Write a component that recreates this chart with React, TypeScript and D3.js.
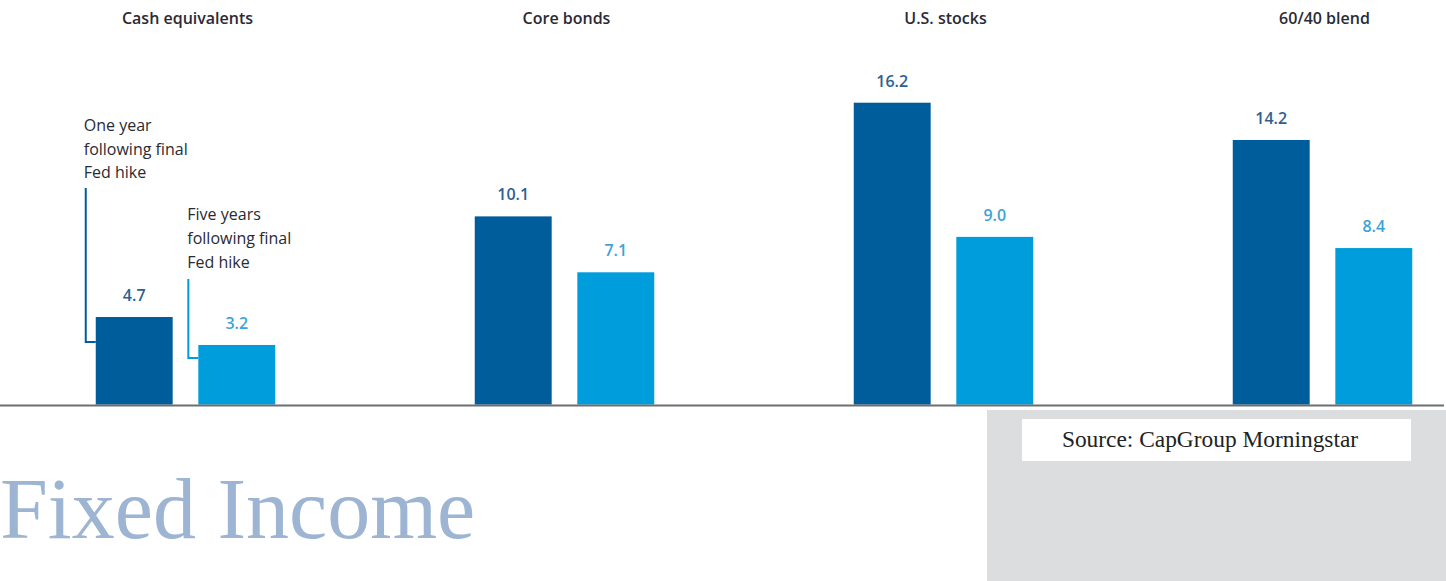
import React from "react";
import * as d3 from "d3";

const categories = ["Cash equivalents", "Core bonds", "U.S. stocks", "60/40 blend"];
const seriesKeys = ["oneYear", "fiveYears"];
const oneYearValues = [4.7, 10.1, 16.2, 14.2];
const fiveYearValues = [3.2, 7.1, 9.0, 8.4];
const oneYearNote = ["One year", "following final", "Fed hike"];
const fiveYearNote = ["Five years", "following final", "Fed hike"];
const sourceText = "Source: CapGroup Morningstar";
const footerTitle = "Fixed Income";

const W = 1446;
const H = 581;
const DARK = "#005d9c";
const LIGHT = "#009ddc";
const DARK_LABEL = "#2e5f92";
const LIGHT_LABEL = "#3ea3d6";
const SANS = "'Open Sans', 'Noto Sans', sans-serif";
const SERIF = "'Liberation Serif', 'DejaVu Serif', serif";

export default function App() {
  const x = d3.scalePoint<string>().domain(categories).range([185.5, 1322.5]);
  const inner = d3.scaleBand<string>().domain(seriesKeys).range([-89.75, 89.75]).paddingInner(0.25).paddingOuter(0);
  const y = d3.scaleLinear().domain([0, 16.2]).range([404.6, 102.7]);
  const bw = inner.bandwidth();

  const data = categories.map((c, i) => ({ c, one: oneYearValues[i], five: fiveYearValues[i] }));
  const darkLeft0 = (x(categories[0]) as number) + (inner("oneYear") as number);
  const lightLeft0 = (x(categories[0]) as number) + (inner("fiveYears") as number);

  return (
    <>
      <style>{`body{margin:0;background:#fff}`}</style>
      <svg width={W} height={H} style={{ display: "block" }}>
        <rect x={0} y={0} width={W} height={H} fill="#fff" />
        {/* source box */}
        <rect x={987} y={410} width={W - 987} height={H - 410} fill="#dcdddf" />
        <rect x={1022} y={419} width={389} height={42} fill="#fff" />
        <text x={1210} y={447} textAnchor="middle" fontFamily={SERIF} fontSize={23.4} fill="#222">
          {sourceText}
        </text>
        {/* footer title */}
        <text x={0} y={538} fontFamily={SERIF} fontSize={86} fill="#9db5d3">
          {footerTitle}
        </text>

        {data.map((d) => {
          const cx = x(d.c) as number;
          const x1 = cx + (inner("oneYear") as number);
          const x2 = cx + (inner("fiveYears") as number);
          return (
            <g key={d.c}>
              <text x={cx + 2} y={24} textAnchor="middle" fontFamily={SANS} fontWeight={600} fontSize={16} fill="#2a2a35">
                {d.c}
              </text>
              <rect x={x1} y={y(d.one)} width={bw} height={y(0) - y(d.one)} fill={DARK} />
              <rect x={x2} y={y(d.five)} width={bw} height={y(0) - y(d.five)} fill={LIGHT} />
              <text x={x1 + bw / 2} y={y(d.one) - 16} textAnchor="middle" fontFamily={SANS} fontWeight={600} fontSize={16} fill={DARK_LABEL}>
                {d.one.toFixed(1)}
              </text>
              <text x={x2 + bw / 2} y={y(d.five) - 16} textAnchor="middle" fontFamily={SANS} fontWeight={600} fontSize={16} fill={LIGHT_LABEL}>
                {d.five.toFixed(1)}
              </text>
            </g>
          );
        })}

        {/* annotations */}
        <path
          d={`M${darkLeft0 - 10},188 V${y(oneYearValues[0]) + 25} H${darkLeft0}`}
          fill="none"
          stroke={DARK}
          strokeWidth={2}
        />
        <path
          d={`M${lightLeft0 - 10},279 V${y(fiveYearValues[0]) + 13} H${lightLeft0}`}
          fill="none"
          stroke={LIGHT}
          strokeWidth={2}
        />
        {oneYearNote.map((t, i) => (
          <text key={"o" + i} x={darkLeft0 - 12} y={131 + i * 23.5} fontFamily={SANS} fontSize={16} fill="#2a2a35">
            {t}
          </text>
        ))}
        {fiveYearNote.map((t, i) => (
          <text key={"f" + i} x={lightLeft0 - 11} y={220 + i * 24} fontFamily={SANS} fontSize={16} fill="#2a2a35">
            {t}
          </text>
        ))}

        {/* baseline */}
        <line x1={0} x2={1444} y1={405.5} y2={405.5} stroke="#6e6e6e" strokeWidth={2} />
      </svg>
    </>
  );
}
